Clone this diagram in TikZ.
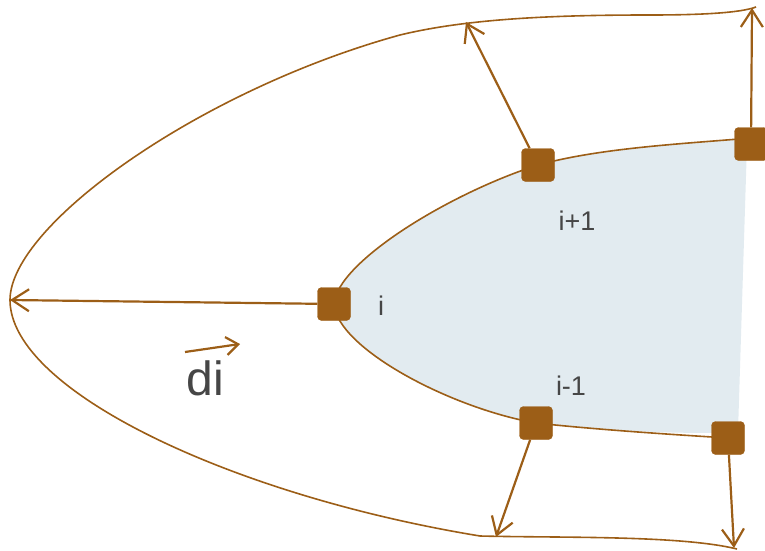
\documentclass[tikz,border=0pt]{standalone}
\usepackage{fontspec}
\setmainfont{Liberation Sans}
\usetikzlibrary{arrows.meta}
\definecolor{brn}{HTML}{9C5E17}
\definecolor{regionfill}{HTML}{E2EBF0}
\definecolor{txt}{HTML}{464646}
\tikzset{
  vertex/.style={fill=brn, draw=brn, rounded corners=4pt, minimum size=33pt, inner sep=0pt},
  contour/.style={draw=brn, line width=1.6pt},
  normal/.style={draw=brn, line width=2.2pt, -{Straight Barb[length=17pt,width=22pt,line width=2.2pt]}},
  lbl/.style={text=txt, font=\fontsize{27}{30}\selectfont}
}
\begin{document}
\begin{tikzpicture}[x=1pt,y=-1pt]
\useasboundingbox (0,0) rectangle (765,551);

% shaded region bounded by the inner contour
\fill[regionfill] (334,304) .. controls (337,262) and (450,193) .. (538,165)
  .. controls (600,148) and (680,144) .. (748,138) -- (747,144) -- (738,432)
  .. controls (680,435) and (600,430) .. (536,423)
  .. controls (450,408) and (337,348) .. (334,304) -- cycle;

% inner contour
\draw[contour] (334,304) .. controls (337,262) and (450,193) .. (538,165)
  .. controls (600,148) and (680,144) .. (751,138);
\draw[contour] (334,304) .. controls (337,348) and (450,408) .. (536,423)
  .. controls (600,430) and (680,435) .. (728,438);

% outer contour
\coordinate (L) at (10,300);
\coordinate (T1) at (466,22);
\coordinate (T2) at (752,8);
\coordinate (B1) at (496,537);
\coordinate (B2) at (734,548);
\draw[contour] (756,7) .. controls (740,13) and (700,15) .. (650,15)
  .. controls (560,15) and (470,18) .. (400,35)
  .. controls (200,90) and (10,225) .. (L)
  .. controls (10,390) and (230,495) .. (480,536)
  .. controls (560,538) and (680,535) .. (737,549);

% vertices
\node[vertex] (vi) at (334,304) {};
\node[vertex] (vip) at (538,165) {};
\node[vertex] (vtr) at (751,144) {};
\node[vertex] (vim) at (536,423) {};
\node[vertex] (vbr) at (728,438) {};

% displacement arrows
\draw[normal] (vi) -- (L);
\draw[normal] (vip) -- (T1);
\draw[normal] (vtr) -- (T2);
\draw[normal] (vim) -- (B1);
\draw[normal] (vbr) -- (B2);

% labels
\node[lbl] (li) at (381,306) {i};
\node[lbl] (lip) at (577,221) {i+1};
\node[lbl] (lim) at (571,386) {i-1};
\node[text=txt, font=\fontsize{48}{52}\selectfont] (ldi) at (205,378) {di};
\coordinate (da) at (185,352);
\coordinate (db) at (240,344);
\draw[draw=brn, line width=2.2pt, -{Straight Barb[length=12pt,width=18pt,line width=2.2pt]}] (da) -- (db);
\end{tikzpicture}
\end{document}
